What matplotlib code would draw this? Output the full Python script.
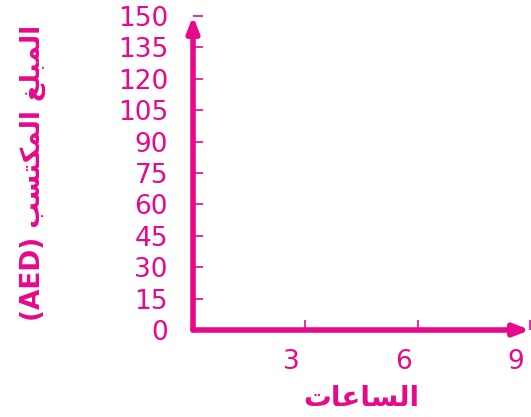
import matplotlib
matplotlib.use("Agg")
import matplotlib.pyplot as plt
import matplotlib.transforms as mtransforms

# Data
x_ticks = [3, 6, 9]
y_ticks = [0, 15, 30, 45, 60, 75, 90, 105, 120, 135, 150]
x_max = 9
y_max = 150
# Arabic labels in shaped presentation forms, visual (left-to-right) order
x_label = "\uFE95\uFE8E\uFECB\uFE8E\uFEB4\uFEDF\uFE8D"            # الساعات
y_label = "(AED) " + "\uFE90\uFEB4\uFE98\uFEDC\uFEE4\uFEDF\uFE8D" + " " + "\uFECE\uFEE0\uFE92\uFEE4\uFEDF\uFE8D"  # المبلغ المكتسب (AED)

color = "#E8088A"

fig = plt.figure(figsize=(5.31, 4.17), dpi=100)
ax = fig.add_axes([193/531, 87/417, 337/531, 314/417])
ax.set_xlim(0, x_max)
ax.set_ylim(0, y_max)
for s in ax.spines.values():
    s.set_visible(False)

# axes with arrows
ax.annotate("", xy=(1.0, 0), xytext=(0, 0), xycoords="axes fraction",
            arrowprops=dict(arrowstyle="-|>,head_length=0.9,head_width=0.35",
                            color=color, lw=4, shrinkA=0, shrinkB=0))
ax.annotate("", xy=(0, 1.0), xytext=(0, 0), xycoords="axes fraction",
            arrowprops=dict(arrowstyle="-|>,head_length=0.9,head_width=0.35",
                            color=color, lw=4, shrinkA=0, shrinkB=0))

ax.set_xticks(x_ticks)
ax.set_xticklabels([str(v) for v in x_ticks])
ax.set_yticks(y_ticks)
ax.set_yticklabels([str(v) for v in y_ticks])
ax.tick_params(axis="y", direction="in", length=7, width=1.2, color=color,
               labelcolor=color, labelsize=19, pad=18)
ax.tick_params(axis="x", direction="in", length=7, width=1.2, color=color,
               labelcolor=color, labelsize=19, pad=14)

shift = mtransforms.ScaledTranslation(-14/100, 0, fig.dpi_scale_trans)
for lab in ax.get_xticklabels():
    lab.set_transform(lab.get_transform() + shift)

ax.set_xlabel(x_label, color=color, fontsize=20, fontweight="bold", labelpad=6)
ax.set_ylabel(y_label, color=color, fontsize=19, fontweight="bold", labelpad=52)

fig.savefig("out.png", dpi=100)
